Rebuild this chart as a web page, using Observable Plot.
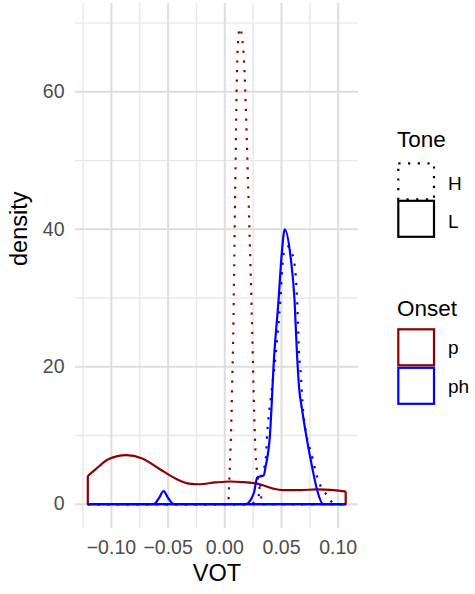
<!DOCTYPE html>
<html>
<head>
<meta charset="utf-8">
<script src="https://cdn.jsdelivr.net/npm/d3@7"></script>
<script src="https://cdn.jsdelivr.net/npm/@observablehq/plot@0.6"></script>
<style>
  html, body { margin: 0; padding: 0; background: #fff; }
  #wrap { position: relative; width: 475px; height: 594px; font-family: "Liberation Sans", Arial, Helvetica, sans-serif; }
  #legend { position: absolute; left: 0; top: 0; }
</style>
</head>
<body>
<div id="wrap"></div>
<script>
// ---- data ----
const onsets = ["p", "ph"];
const tones = ["H", "L"];
const onsetColors = ["#8B0000", "#0000FF"];

const xMajor = [-0.10, -0.05, 0.00, 0.05, 0.10];
const xMinor = [-0.125, -0.075, -0.025, 0.025, 0.075];
const yMajor = [0, 20, 40, 60];
const yMinor = [10, 30, 50, 70];

// Onset p, Tone H (dotted dark red)
const pH_vot = [-0.1208, 0.0030, 0.0035, 0.0041, 0.0050, 0.0059, 0.0065, 0.0071, 0.0092, 0.0112, 0.0132, 0.0165, 0.0206, 0.0247, 0.0256, 0.0270, 0.0290, 0.0315, 0.0330, 0.0345, 0.1066];
const pH_density = [0, 0, 1.3, 4.0, 7.9, 12.7, 17.6, 21.5, 46.0, 65.7, 69.3, 65.7, 46.3, 21.5, 15.2, 7.9, 4.0, 1.6, 0.3, 0, 0];

// Onset p, Tone L (solid dark red)
const pL_vot = [-0.1208, -0.1140, -0.1023, -0.0869, -0.0728, -0.0582, -0.0435, -0.0317, -0.0229, -0.0082, 0.0050, 0.0165, 0.0286, 0.0420, 0.0510, 0.0668, 0.0810, 0.0960, 0.1066];
const pL_density = [4.1, 5.06, 6.56, 7.14, 6.66, 5.2, 3.74, 3.0, 2.9, 3.16, 3.3, 3.2, 3.0, 2.3, 2.05, 2.05, 2.15, 2.05, 1.85];

// Onset ph, Tone H (dotted blue)
const phH_vot = [-0.1208, 0.0240, 0.0260, 0.0306, 0.0315, 0.0360, 0.0374, 0.0410, 0.0447, 0.0490, 0.0515, 0.0535, 0.0556, 0.0586, 0.0603, 0.0638, 0.0656, 0.0668, 0.0690, 0.0770, 0.0835, 0.0888, 0.0938, 0.0970, 0.1066];
const phH_density = [0, 0, 0.4, 1.6, 3.25, 6.5, 10.3, 16.1, 21.5, 29.7, 36.0, 37.2, 37.5, 36.6, 36.0, 29.7, 21.5, 19.5, 13.7, 6.9, 3.0, 1.6, 0.4, 0, 0];

// Onset ph, Tone L (solid blue)
const phL_vot = [-0.1208, -0.0626, -0.0580, -0.0540, -0.0500, -0.0450, 0.0183, 0.0256, 0.0286, 0.0344, 0.0359, 0.0397, 0.0435, 0.0474, 0.0500, 0.0529, 0.0580, 0.0615, 0.0635, 0.0655, 0.0682, 0.0720, 0.0770, 0.0815, 0.0867, 0.1066];
const phL_density = [0, 0, 0.9, 1.9, 0.9, 0, 0, 1.6, 3.9, 4.2, 5.4, 9.8, 21.5, 29.7, 36.0, 40.0, 36.0, 29.7, 22.4, 17.0, 13.7, 9.8, 5.4, 2.0, 0, 0];

// ---- build tables ----
const series = [
  {Onset: "p", Tone: "H", vot: pH_vot, density: pH_density},
  {Onset: "p", Tone: "L", vot: pL_vot, density: pL_density},
  {Onset: "ph", Tone: "H", vot: phH_vot, density: phH_density},
  {Onset: "ph", Tone: "L", vot: phL_vot, density: phL_density}
];
function curveRows(s) {
  return s.vot.map((v, i) => ({Onset: s.Onset, Tone: s.Tone, VOT: v, density: s.density[i]}));
}
function edgeRows(s) {
  const n = s.vot.length - 1;
  return [
    {Onset: s.Onset, VOT: s.vot[0], density: s.density[0]},
    {Onset: s.Onset, VOT: s.vot[0], density: 0},
    {Onset: s.Onset, VOT: s.vot[n], density: 0},
    {Onset: s.Onset, VOT: s.vot[n], density: s.density[n]}
  ];
}

const dotted = "2.2 7.5";
const lineMarks = [];
for (const s of series) {
  const dash = s.Tone === "H" ? dotted : null;
  lineMarks.push(Plot.line(edgeRows(s), {x: "VOT", y: "density", stroke: "Onset", strokeWidth: 2.2, strokeDasharray: dash, strokeLinecap: "butt", curve: "linear"}));
  lineMarks.push(Plot.line(curveRows(s), {x: "VOT", y: "density", stroke: "Onset", strokeWidth: 2.2, strokeDasharray: dash, strokeLinecap: "butt", curve: "monotone-x"}));
}

const chart = Plot.plot({
  width: 475,
  height: 594,
  marginLeft: 75,
  marginRight: 117,
  marginTop: 3,
  marginBottom: 66,
  style: {fontFamily: "Liberation Sans, Arial, Helvetica, sans-serif", background: "#fff"},
  x: {domain: [-0.13166, 0.1179]},
  y: {domain: [-3.54, 72.86]},
  color: {domain: onsets, range: onsetColors},
  marks: [
    Plot.gridY(yMinor, {stroke: "#e8e8e8", strokeOpacity: 1, strokeWidth: 1.4}),
    Plot.gridX(xMinor, {stroke: "#e8e8e8", strokeOpacity: 1, strokeWidth: 1.4}),
    Plot.gridY(yMajor, {stroke: "#dedede", strokeOpacity: 1, strokeWidth: 2}),
    Plot.gridX(xMajor, {stroke: "#dedede", strokeOpacity: 1, strokeWidth: 2}),
    Plot.axisX(xMajor, {tickSize: 0, tickPadding: 12, fontSize: 19.5, color: "#4d4d4d", tickFormat: d3.format(".2f"), label: null}),
    Plot.axisY(yMajor, {tickSize: 0, tickPadding: 11, fontSize: 19.5, color: "#4d4d4d", label: null}),
    Plot.text(["VOT"], {frameAnchor: "bottom", dy: 52, fontSize: 23.5, fill: "black"}),
    Plot.text(["density"], {frameAnchor: "left", rotate: -90, dx: -56, fontSize: 23.5, fill: "black"}),
    ...lineMarks
  ]
});
const wrap = document.getElementById("wrap");
wrap.appendChild(chart);

// ---- legend ----
const lg = d3.select(wrap).append("svg")
  .attr("id", "legend")
  .attr("width", 475).attr("height", 594)
  .style("font-family", "Liberation Sans, Arial, Helvetica, sans-serif");

const toneTitleY = 146.5, toneKeyTop = 163.3, keyH = 37.5, keyW = 35.7, keyX = 398.3, textX = 448;
lg.append("text").attr("x", 397).attr("y", toneTitleY).attr("font-size", 22.5).text("Tone");
tones.forEach((t, i) => {
  const y0 = toneKeyTop + i * keyH;
  lg.append("rect").attr("x", keyX).attr("y", y0).attr("width", keyW).attr("height", keyH - 1.5)
    .attr("fill", "none").attr("stroke", "black").attr("stroke-width", 2.2)
    .attr("stroke-dasharray", t === "H" ? dotted : null);
  lg.append("text").attr("x", textX).attr("y", y0 + keyH / 2 + 8).attr("font-size", 19).text(t);
});

const onsetTitleY = 315.5, onsetKeyTop = 329.3;
lg.append("text").attr("x", 397).attr("y", onsetTitleY).attr("font-size", 22.5).text("Onset");
onsets.forEach((o, i) => {
  const y0 = onsetKeyTop + i * (keyH + 1);
  lg.append("rect").attr("x", keyX).attr("y", y0).attr("width", keyW).attr("height", keyH - 1.5)
    .attr("fill", "none").attr("stroke", onsetColors[i]).attr("stroke-width", 2.2);
  lg.append("text").attr("x", textX).attr("y", y0 + keyH / 2 + 6).attr("font-size", 19).text(o);
});
</script>
</body>
</html>
